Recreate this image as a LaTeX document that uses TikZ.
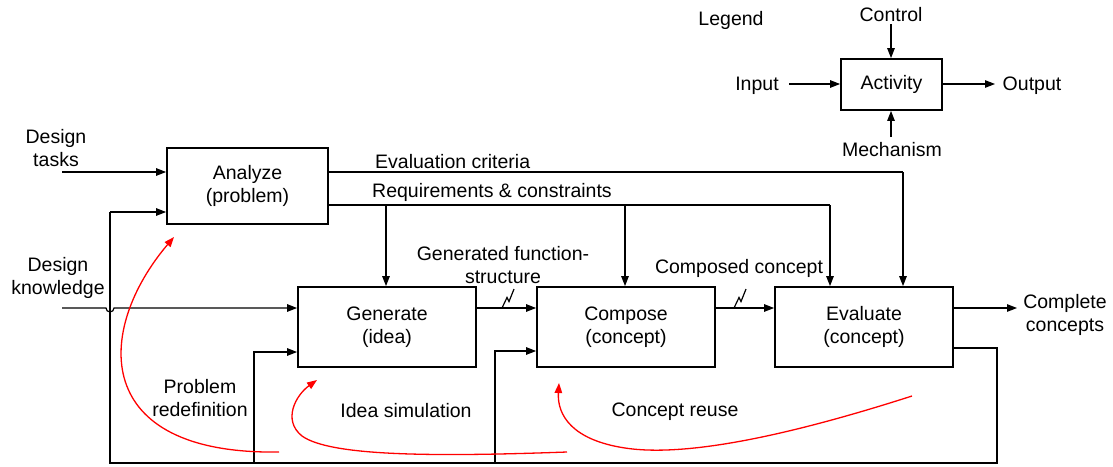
\documentclass[tikz,border=0pt]{standalone}
\usepackage{fontspec}
\setmainfont{Liberation Sans}
\usetikzlibrary{arrows.meta}
\begin{document}
\begin{tikzpicture}[x=1pt,y=-1pt,
  every node/.style={font=\fontsize{19.5}{23}\selectfont, inner sep=0pt},
  activity/.style={draw, line width=1.8pt, minimum width=178pt, minimum height=80pt, align=center},
  lbl/.style={align=center},
  conn/.style={line width=1.2pt},
  arr/.style={conn, -{Triangle[length=10pt,width=7.5pt]}},
  redarr/.style={red, line width=1.3pt, -{Triangle[length=10pt,width=7.5pt]}},
  bolt/.style={line width=1.2pt, line join=miter}
]
\useasboundingbox (0,0) rectangle (1113,466);

% ---------- legend ----------
\node at (731,20.5) {Legend};
\node[activity, minimum width=101pt, minimum height=51pt] (act) at (891.5,84.5) {Activity};
\node (ctl) at (891,15) {Control};
\node (inp) at (757,85.5) {Input};
\node (outp) at (1032,85.5) {Output};
\node (mech) at (892,149.5) {Mechanism};
\coordinate (ctlA) at (891,24);
\coordinate (inpA) at (789,84);
\coordinate (outA) at (995,84);
\coordinate (mechA) at (891,137);
\draw[arr] (ctlA) -- (act.north -| ctlA);
\draw[arr] (inpA) -- (act.west |- inpA);
\draw[arr] (act.east |- outA) -- (outA);
\draw[arr] (mechA) -- (act.south -| mechA);

% ---------- activity boxes ----------
\node[activity, minimum width=161pt, minimum height=76pt] (an) at (247.5,186) {Analyze\\(problem)};
\node[activity] (gen) at (387,327) {Generate\\(idea)};
\node[activity] (comp) at (626,327) {Compose\\(concept)};
\node[activity] (ev) at (864,327) {Evaluate\\(concept)};

% ---------- external inputs and output ----------
\node[lbl] (tasks) at (56,148.5) {Design\\tasks};
\node[lbl] (know) at (58,277.5) {Design\\knowledge};
\node[lbl] (done) at (1065,315) {Complete\\concepts};
\coordinate (tasksA) at (62,172);
\coordinate (knowA) at (62,308);
\coordinate (doneA) at (1017,308);
\draw[arr] (tasksA) -- (an.west |- tasksA);
\draw[arr] (knowA) -- (106,308) arc[start angle=180, end angle=0, radius=4] -- (gen.west |- knowA);
\draw[arr] (ev.east |- doneA) -- (doneA);

% ---------- flow between activities ----------
\draw[arr] (gen.east |- 0,308) -- (comp.west |- 0,308);
\draw[arr] (comp.east |- 0,308) -- (ev.west |- 0,308);
\draw[bolt] (502,308) -- (507,297.5) -- (509,301.5) -- (514,289);
\draw[bolt] (734,308) -- (739,297.5) -- (741,301.5) -- (746,289);
\node[lbl] (gfs) at (503,265.5) {Generated function-\\structure};
\node (cc) at (739,268.5) {Composed concept};

% ---------- controls from analysis ----------
\coordinate (evc) at (903,172);
\coordinate (req) at (830,205);
\draw[conn] (an.east |- evc) -- (evc);
\draw[arr] (evc) -- (ev.north -| evc);
\draw[conn] (an.east |- req) -- (req);
\draw[arr] (req) -- (ev.north -| req);
\draw[arr] (386,205) -- (gen.north -| 386,0);
\draw[arr] (625,205) -- (comp.north -| 625,0);
\node[anchor=west] (evcl) at (375,161.5) {Evaluation criteria};
\node[anchor=west] (reql) at (372,192.5) {Requirements \& constraints};

% ---------- feedback loop ----------
\coordinate (fbR) at (997,348);
\coordinate (fbBR) at (997,463);
\coordinate (fbBL) at (110,463);
\coordinate (fbTL) at (110,212);
\draw[conn] (ev.east |- fbR) -- (fbR) -- (fbBR) -- (fbBL) -- (fbTL);
\draw[arr] (fbTL) -- (an.west |- fbTL);
\draw[arr] (254,463) -- (254,352) -- (gen.west |- 0,352);
\draw[arr] (495,463) -- (495,351) -- (comp.west |- 0,351);

% ---------- iteration loops ----------
\draw[redarr] (279,452) .. controls (90,455) and (95,330) .. (174,237);
\draw[redarr] (567,452) .. controls (430,457) and (330,456) .. (302,436)
              .. controls (282,420) and (296,395) .. (317,380);
\draw[redarr] (912,396) .. controls (800,432) and (690,458) .. (625,448)
              .. controls (572,440) and (557,415) .. (559,383);
\node[lbl] (pr) at (200,398.5) {Problem\\redefinition};
\node (is) at (406,410.5) {Idea simulation};
\node (cr) at (675,411.5) {Concept reuse};
\end{tikzpicture}
\end{document}
